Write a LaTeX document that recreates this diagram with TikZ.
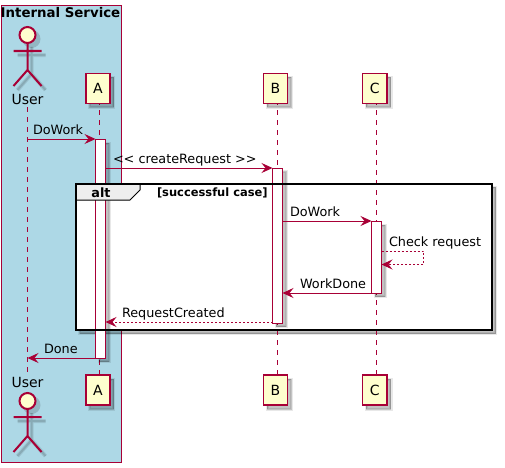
\documentclass[tikz,border=0pt]{standalone}
\usepackage{fontspec}
\setmainfont{DejaVu Sans}
\usetikzlibrary{arrows.meta}
\definecolor{pumlred}{HTML}{A80036}
\definecolor{pumlfill}{HTML}{FEFECE}
\definecolor{pumlblue}{HTML}{ADD8E6}
\definecolor{pumltab}{HTML}{EEEEEE}
\newcommand{\actorfig}[3]{%
  \begin{scope}[shift={(#1+4,#2+4)}]
    \draw[softline] (0,8)--(0,35) (-14,16)--(14,16) (0,35)--(-14,51) (0,35)--(14,51);
    \draw[softline2] (0,8)--(0,35) (-14,16)--(14,16) (0,35)--(-14,51) (0,35)--(14,51);
    \fill[black,opacity=.15] (0,0) circle[radius=9*0.75pt];
  \end{scope}
  \begin{scope}[shift={(#1,#2)}]
    \node[head] (#3head) at (0,0) {};
    \draw[actorline] (#3head.south)--(0,35) (-14,16)--(14,16) (0,35)--(-14,51) (0,35)--(14,51);
  \end{scope}}
\tikzset{
  x=0.75pt,y=-0.75pt,
  every node/.style={font=\fontsize{9.6}{12}\selectfont,inner sep=0pt,outer sep=0pt,text=black},
  softline/.style={black,opacity=.09,line width=3pt},
  softline2/.style={black,opacity=.13,line width=1.5pt},
  softshade/.style={preaction={draw=black,fill=black,opacity=.09,line width=2.4pt,transform canvas={shift={(2.9pt,-2.9pt)}}},
                    preaction={draw=black,fill=black,opacity=.16,line width=.8pt,transform canvas={shift={(2.9pt,-2.9pt)}}}},
  head/.style={circle,draw=pumlred,fill=pumlfill,line width=1.5pt,minimum size=16*0.75pt},
  actorline/.style={draw=pumlred,line width=1.5pt},
  ghost/.style={rectangle,minimum height=30*0.75pt},
  part/.style={ghost,draw=pumlred,fill=pumlfill,line width=1.3pt,font=\fontsize{10.5}{12}\selectfont,softshade},
  lifeline/.style={draw=pumlred,line width=.75pt,dash pattern=on 3.75pt off 3.75pt},
  bar/.style={rectangle,draw=pumlred,fill=white,line width=.75pt,minimum width=10*0.75pt,softshade},
  msg/.style={draw=pumlred,line width=.75pt,-{Stealth[length=8.25pt,width=7.5pt,inset=3pt]}},
  ret/.style={msg,dash pattern=on 1.5pt off 1.5pt},
  lbl/.style={anchor=base west},
  uname/.style={anchor=base,font=\fontsize{10.5}{12}\selectfont},
}
\begin{document}
\begin{tikzpicture}
\useasboundingbox (0,0) rectangle (505,467);
% box
\node[draw=pumlred,fill=pumlblue,line width=.75pt,minimum width=120*0.75pt,minimum height=456*0.75pt] (svc) at (61.5,234) {};
\node[font=\fontsize{10}{12}\selectfont\bfseries,anchor=base] (svct) at (60.5,18) {Internal Service};
% frame body
\node[fill=white,minimum width=416*0.75pt,minimum height=146.5*0.75pt,softshade] (frame) at (284,256.75) {};
% lifeline ends
\coordinate (At) at (99,100);
\coordinate (Bt) at (277.5,100);
\coordinate (Ct) at (376.5,100);
\coordinate (Ab) at (99,380);
\coordinate (Bb) at (277.5,380);
\coordinate (Cb) at (376.5,380);
\actorfig{27.5}{35}{ut}
\actorfig{27.5}{401}{ub}
\node[uname] (Ut) at (27.5,104) {User};
\node[uname] (Ub) at (27.5,387) {User};
% lifelines
\draw[lifeline] (Ut.south) ++(0,3) coordinate (ut1) -- (Ub.north |- 0,372);
\draw[lifeline] (At) -- (Ab);
\draw[lifeline] (Bt) -- (Bb);
\draw[lifeline] (Ct) -- (Cb);
\node[part,minimum width=24*0.75pt] (A1) at (98,88.5) {A};
\node[part,minimum width=24*0.75pt] (B1) at (275.5,88.5) {B};
\node[part,minimum width=24.5*0.75pt] (C1) at (374.8,88.5) {C};
\node[part,minimum width=24*0.75pt] (A2) at (98,390.3) {A};
\node[part,minimum width=24*0.75pt] (B2) at (275.5,390.3) {B};
\node[part,minimum width=24.5*0.75pt] (C2) at (374.8,390.3) {C};
% activations
\node[bar,minimum height=218.5*0.75pt] (barA) at (100.5,248.75) {};
\node[bar,minimum height=155*0.75pt] (barB) at (277.5,245.5) {};
\node[bar,minimum height=71.5*0.75pt] (barC) at (376.5,257.25) {};
% frame outline and tab, above the bars
\path[fill=pumltab,draw=black,line width=.75pt] (frame.north west) -- (140,183.5) -- (140,190) -- (130,200) -- (76,200) -- cycle;
\draw[black,line width=1.5pt] (frame.north west) rectangle (frame.south east);
\node[font=\fontsize{9.6}{12}\selectfont\bfseries,anchor=base] (alt) at (101,197) {alt};
\node[font=\fontsize{8.6}{10}\selectfont\bfseries,anchor=base west] (cond) at (157,196) {[successful case]};
\coordinate (uA) at (27.5,139);
\coordinate (uD) at (27.5,358);
% messages
\draw[msg] (uA) -- (barA.north west |- uA);
\node[lbl] (l1) at (33,134) {DoWork};
\draw[msg] (barA.north east |- 0,168) -- (barB.north west |- 0,168);
\node[lbl] (l2) at (113,163) {<{}< createRequest >{}>};
\draw[msg] (barB.north east |- 0,221) -- (barC.north west |- 0,221);
\node[lbl] (l3) at (290,216) {DoWork};
\draw[ret] (barC.east |- 0,251) -- (423.5,251) -- (423.5,264.5) -- (barC.east |- 0,264.5);
\node[lbl] (l4) at (389,246) {Check request};
\draw[msg] (barC.west |- 0,293) -- (barB.east |- 0,293);
\node[lbl] (l5) at (300,288) {WorkDone};
\draw[ret] (barB.west |- 0,322) -- (barA.east |- 0,322);
\node[lbl] (l6) at (122,317) {RequestCreated};
\draw[msg] (barA.west |- uD) -- (uD);
\node[lbl] (l7) at (44,353) {Done};
\end{tikzpicture}
\end{document}
